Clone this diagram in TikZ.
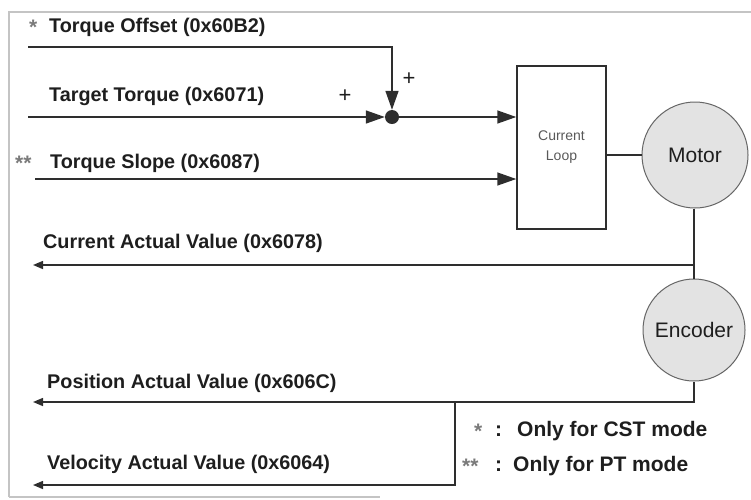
\documentclass[tikz,border=0pt]{standalone}
\usepackage{fontspec}
\setmainfont{Liberation Sans}
\usetikzlibrary{arrows.meta}
\definecolor{ink}{HTML}{1E1E1E}
\definecolor{wire}{HTML}{2E2E2E}
\definecolor{frame}{HTML}{C4C4C4}
\definecolor{disk}{HTML}{E3E3E3}
\definecolor{stargray}{HTML}{7A7A7A}
\tikzset{
  lbl/.style={anchor=base west, inner sep=0pt, text=ink, font=\fontsize{19.8}{22}\selectfont\bfseries},
  star/.style={anchor=base west, inner sep=0pt, text=stargray, font=\fontsize{21}{24}\selectfont\bfseries},
  leg/.style={anchor=base west, inner sep=0pt, text=ink, font=\fontsize{21}{24}\selectfont\bfseries},
  wireline/.style={draw=wire, line width=1.5pt},
  bigtip/.style={-{Triangle[length=19pt,width=13pt]}},
  smalltip/.style={{Triangle[length=10pt,width=8pt]}-},
  disknode/.style={circle, draw=gray!80!black, line width=1pt, fill=disk, inner sep=0pt, text=ink, font=\fontsize{21}{24}\selectfont},
  plus/.style={inner sep=0pt, text=ink, font=\fontsize{22}{24}\selectfont}
}
\begin{document}
\begin{tikzpicture}[x=1pt,y=-1pt]
\useasboundingbox (0,0) rectangle (751,499);
% frame
\draw[frame, line width=1.2pt] (9,497) -- (9,12) -- (751,12);
\draw[frame, line width=1.2pt] (9,497) -- (380,497);

% labels
\node[star] (s1) at (29,34) {*};
\node[lbl] (l1) at (49,32) {Torque Offset (0x60B2)};
\node[lbl] (l2) at (49,101) {Target Torque (0x6071)};
\node[star] (s3) at (15,170) {**};
\node[lbl] (l3) at (50,168) {Torque Slope (0x6087)};
\node[lbl] (l4) at (43,248) {Current Actual Value (0x6078)};
\node[lbl] (l5) at (47,388) {Position Actual Value (0x606C)};
\node[lbl] (l6) at (47,469) {Velocity Actual Value (0x6064)};

\node[plus] (p1) at (345,96) {+};
\node[plus] (p2) at (409,79) {+};

% blocks
\node[fill=wire, circle, inner sep=0pt, minimum size=14pt] (sum) at (392,117) {};
\node[draw=wire, line width=1.5pt, minimum width=89pt, minimum height=163pt, inner sep=0pt,
      align=center, text=black!65, font=\fontsize{14}{20}\selectfont] (cl) at (561.5,147.5) {Current\\Loop};
\node[disknode, minimum size=106pt] (motor) at (695,155) {Motor};
\node[disknode, minimum size=102pt] (enc) at (694,330) {Encoder};

% free ends
\coordinate (offA) at (28,47);
\coordinate (tgtA) at (28,117);
\coordinate (slpA) at (35,179);
\coordinate (curE) at (33,265);
\coordinate (curB) at (694,265);
\coordinate (posC) at (694,402);
\coordinate (posE) at (33,402);
\coordinate (velB) at (455,402);
\coordinate (velC) at (455,485);
\coordinate (velE) at (33,485);

% inputs
\draw[wireline, bigtip] (offA) -| (sum.north);
\draw[wireline, bigtip] (tgtA) -- (sum.west);
\draw[wireline, bigtip] (sum.east) -- (cl.west |- sum);
\draw[wireline, bigtip] (slpA) -- (cl.west |- slpA);
\draw[wireline] (cl.east |- motor.west) -- (motor.west);
\draw[wireline] (motor.south -| curB) -- (enc.north -| curB);

% outputs
\draw[wireline, smalltip] (curE) -- (curB);
\draw[wireline, smalltip] (posE) -- (posC) -- (enc.south -| posC);
\draw[wireline, smalltip] (velE) -- (velC) -- (velB);

% legend
\node[star] (ls1) at (474,438) {*};
\node[leg] (lc1) at (495,436) {:};
\node[leg] (lg1) at (517,436) {Only for CST mode};
\node[star] (ls2) at (462,473) {**};
\node[leg] (lc2) at (495,471) {:};
\node[leg] (lg2) at (513,471) {Only for PT mode};
\end{tikzpicture}
\end{document}
